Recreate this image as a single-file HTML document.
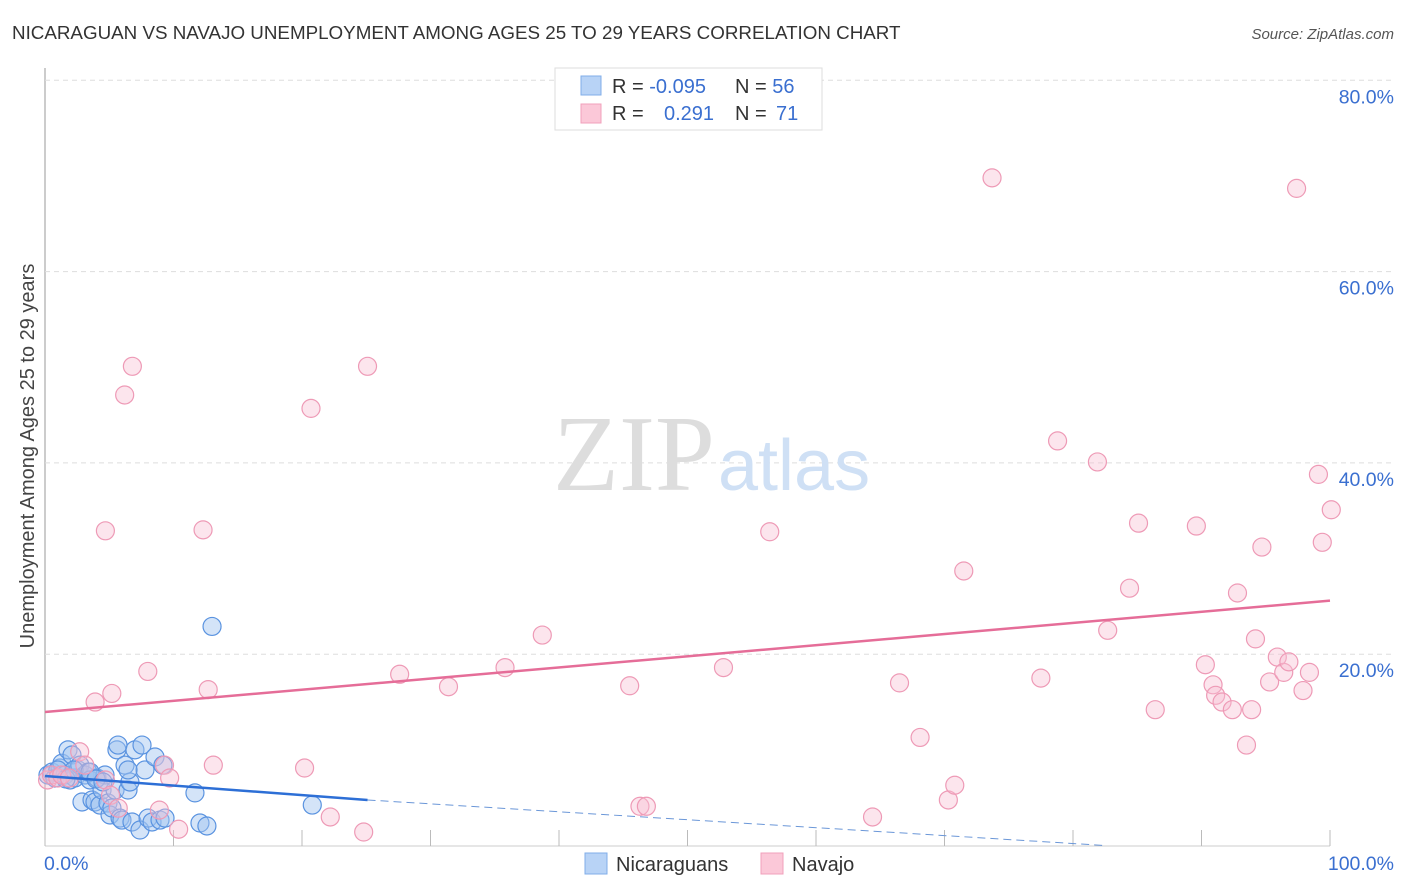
<!DOCTYPE html>
<html><head><meta charset="utf-8"><style>
body{margin:0;background:#fff;font-family:"Liberation Sans",sans-serif;}
svg{display:block}
</style></head><body>
<svg id="chart" width="1406" height="892" xmlns="http://www.w3.org/2000/svg">
<text x="12" y="39" font-size="18.8" fill="#333">NICARAGUAN VS NAVAJO UNEMPLOYMENT AMONG AGES 25 TO 29 YEARS CORRELATION CHART</text>
<text x="1394" y="39" font-size="15" fill="#555" font-style="italic" text-anchor="end">Source: ZipAtlas.com</text>
<g id="grid"></g>
<text x="715" y="490" font-size="108" fill="#ddd" font-family="Liberation Serif" text-anchor="end">ZIP</text>
<text x="718" y="490" font-size="72" fill="#cfe0f5">atlas</text>
<g id="marks"></g>
<text transform="translate(34,456) rotate(-90)" font-size="20" fill="#444" text-anchor="middle">Unemployment Among Ages 25 to 29 years</text>
<text x="44" y="870" font-size="19.5" fill="#3a6fd0">0.0%</text>
<text x="1394" y="870" font-size="19.5" fill="#3a6fd0" text-anchor="end">100.0%</text>
<g>
<rect x="555" y="68" width="267" height="62" fill="#fff" stroke="#ddd"/>
<rect x="581" y="76" width="20" height="19" fill="#b8d3f6" stroke="#80aee8"/>
<rect x="581" y="104" width="20" height="19" fill="#fbc8d8" stroke="#f0a0bb"/>
<text x="612" y="93" font-size="20" fill="#333">R = <tspan fill="#3a6fd0">-0.095</tspan><tspan x="735">N = </tspan><tspan fill="#3a6fd0">56</tspan></text>
<text x="612" y="120" font-size="20" fill="#333">R = <tspan x="664" fill="#3a6fd0">0.291</tspan><tspan x="735">N = </tspan><tspan x="776" fill="#3a6fd0">71</tspan></text>
</g>
<g>
<rect x="585" y="853" width="22" height="21" fill="#b8d3f6" stroke="#80aee8"/>
<text x="616" y="871" font-size="20" fill="#333">Nicaraguans</text>
<rect x="761" y="853" width="22" height="21" fill="#fbc8d8" stroke="#f0a0bb"/>
<text x="792" y="871" font-size="20" fill="#333">Navajo</text>
</g>
</svg>
<script>
const yTicks=[20,40,60,80];
const yTickLabels=["20.0%","40.0%","60.0%","80.0%"];
const xTicks=[0,10,20,30,40,50,60,70,80,90,100];
const blueX=[0.23,0.54,0.78,1.17,1.32,1.56,1.79,1.95,2.1,2.33,2.57,2.72,2.88,3.11,3.35,3.5,3.66,3.89,4.05,4.28,4.44,4.67,4.9,5.06,5.21,5.45,5.6,5.68,5.84,5.99,6.23,6.46,6.61,6.77,7.0,7.39,7.55,7.78,8.02,8.33,8.56,8.95,9.18,9.34,11.67,12.06,12.6,13.0,20.8,1.0,1.63,2.26,3.5,3.97,4.51,6.46];
const blueY=[7.37,7.68,7.06,8.1,8.6,7.37,10.0,6.85,9.46,7.06,7.9,8.4,4.55,7.37,7.68,6.85,4.76,4.55,7.06,4.23,5.8,7.37,4.44,3.19,3.92,5.8,10.0,10.5,2.87,2.66,8.4,5.8,6.64,2.46,10.0,1.62,10.5,7.9,2.87,2.46,9.25,2.66,8.4,2.87,5.5,2.35,2.04,22.9,4.23,7.9,6.95,7.9,7.68,6.95,6.64,7.9];
const pinkX=[0.2,0.5,1.0,1.3,1.9,2.7,3.1,3.9,4.7,5.1,5.2,5.7,6.2,6.8,4.7,8.0,8.9,9.3,9.7,10.4,12.3,12.7,13.1,20.2,20.7,22.2,24.8,25.1,27.6,31.4,35.8,38.7,45.5,46.3,46.8,52.8,56.4,64.4,66.5,68.1,70.3,70.8,71.5,73.7,77.5,78.8,81.9,82.7,84.4,85.1,86.4,89.6,90.3,90.9,91.1,91.6,92.4,92.8,93.5,93.9,94.2,94.7,95.3,95.9,96.4,96.8,97.4,97.9,98.4,99.1,99.4,100.1];
const pinkY=[6.85,7.37,7.06,7.37,7.06,9.8,8.4,15.0,6.85,5.25,15.9,3.9,47.1,50.1,32.9,18.2,3.7,8.4,7.06,1.7,33.0,16.3,8.4,8.1,45.7,2.98,1.41,50.1,17.9,16.6,18.6,22.0,16.7,4.1,4.1,18.6,32.8,2.98,17.0,11.3,4.76,6.3,28.7,69.8,17.5,42.3,40.1,22.5,26.9,33.7,14.2,33.4,18.9,16.8,15.7,15.0,14.2,26.4,10.5,14.2,21.6,31.2,17.1,19.7,18.1,19.2,68.7,16.2,18.1,38.8,31.7,35.1];
const blueTrend=[[0,7.27],[25.1,4.76]];
const blueDash=[[25.1,4.76],[82.5,0]];
const pinkTrend=[[0,13.96],[100,25.6]];
const X=v=>45+v*12.85, Y=v=>845.5-v*9.565;
const NS="http://www.w3.org/2000/svg";
const svg=document.getElementById('chart');
const grid=document.getElementById('grid'), marks=document.getElementById('marks');
function mk(t,a,p){const e=document.createElementNS(NS,t);for(const k in a)e.setAttribute(k,a[k]);p.appendChild(e);return e;}
let ax=mk('line',{x1:45,y1:68,x2:45,y2:846,stroke:'#999'},grid);


let bx=mk('line',{x1:45,y1:846,x2:1330,y2:846,stroke:'#ccc'},grid);


yTicks.forEach((t,i)=>{
 const g=mk('line',{x1:45,y1:Y(t),x2:1394,y2:Y(t),stroke:'#ddd','stroke-dasharray':'5,4'},grid);
 
 
 const l=mk('text',{x:1394,y:Y(t)+23,'font-size':19.5,fill:'#3a6fd0','text-anchor':'end'},grid);
 l.textContent=yTickLabels[i];
 
 
});
xTicks.forEach(t=>{
 const k=mk('line',{x1:X(t),y1:830,x2:X(t),y2:846,stroke:'#bbb'},grid);
 
 
});
blueX.forEach((v,i)=>{
 const c=mk('circle',{cx:X(v),cy:Y(blueY[i]),r:9,fill:'rgba(160,196,240,0.45)',stroke:'#5a93e0','stroke-width':1.2},marks);
 
 
});
pinkX.forEach((v,i)=>{
 const c=mk('circle',{cx:X(v),cy:Y(pinkY[i]),r:9,fill:'rgba(248,190,210,0.4)',stroke:'#ee9ab6','stroke-width':1.2},marks);
 
 
});
function line(p,st,dash,name){const l=mk('line',{x1:X(p[0][0]),y1:Y(p[0][1]),x2:X(p[1][0]),y2:Y(p[1][1]),stroke:st,'stroke-width':dash?1:2.5},marks);if(dash)l.setAttribute('stroke-dasharray','8,5');
 
 }
line(pinkTrend,'#e56d98',false,'navajo-trendline');
line(blueTrend,'#2d6fd6',false,'nicaraguan-trendline');
line(blueDash,'#6b97d8',true,'nicaraguan-trendline-extension');
</script>
</body></html>
